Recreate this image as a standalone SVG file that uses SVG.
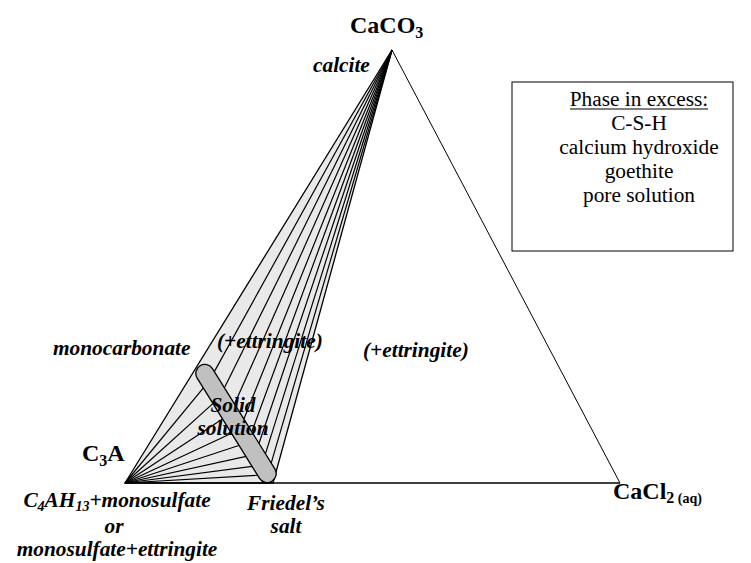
<svg xmlns="http://www.w3.org/2000/svg" width="751" height="563" viewBox="0 0 751 563">
<style>
.bi{font-family:"Liberation Serif","Times New Roman",serif;font-weight:bold;font-style:italic;font-size:21.33px;fill:#000}
.b{font-family:"Liberation Serif","Times New Roman",serif;font-weight:bold;font-size:24px;fill:#000}
.r{font-family:"Liberation Serif","Times New Roman",serif;font-size:21.33px;fill:#000}
.ln{stroke:#000;stroke-width:1.2;fill:none}
</style>
<rect width="751" height="563" fill="#fff"/>
<g id="phase-region">
<polygon points="392,50 125,483 273,483" fill="#e9e9e9" stroke="#000" stroke-width="1.3"/>
</g>
<g id="connectors" class="ln">
<line x1="392" y1="50" x2="620" y2="483" stroke-width="1"/>
<line x1="125" y1="483" x2="620" y2="483" stroke-width="1.5"/>
<line x1="392" y1="50" x2="209.36" y2="380.66"/>
<line x1="392" y1="50" x2="219.72" y2="397.32"/>
<line x1="392" y1="50" x2="230.08" y2="413.98"/>
<line x1="392" y1="50" x2="239.7" y2="429.45"/>
<line x1="392" y1="50" x2="247.84" y2="442.54"/>
<line x1="392" y1="50" x2="255.24" y2="454.44"/>
<line x1="392" y1="50" x2="261.9" y2="465.15"/>
<line x1="392" y1="50" x2="267.82" y2="474.67"/>
<line x1="125" y1="483" x2="209.36" y2="380.66"/>
<line x1="125" y1="483" x2="219.72" y2="397.32"/>
<line x1="125" y1="483" x2="230.08" y2="413.98"/>
<line x1="125" y1="483" x2="239.7" y2="429.45"/>
<line x1="125" y1="483" x2="247.84" y2="442.54"/>
<line x1="125" y1="483" x2="255.24" y2="454.44"/>
<line x1="125" y1="483" x2="261.9" y2="465.15"/>
<line x1="125" y1="483" x2="267.82" y2="474.67"/>
</g>
<g id="solid-solution">
<rect x="-68" y="-9" width="136" height="18" rx="9" ry="9" fill="#c0c0c0" stroke="#000" stroke-width="1.3" transform="translate(236,423.5) rotate(58.1)"/>
<text class="bi" x="233" y="412" text-anchor="middle">Solid</text>
<text class="bi" x="233" y="435" text-anchor="middle">solution</text>
</g>
<g id="node-caco3">
<text class="b" x="350" y="33">CaCO<tspan font-size="16" dy="5">3</tspan></text>
<text class="bi" x="313" y="72">calcite</text>
</g>
<g id="node-c3a">
<text class="b" x="82" y="461">C<tspan font-size="16" dy="5">3</tspan><tspan dy="-5">A</tspan></text>
<text class="bi" x="117" y="507" text-anchor="middle">C<tspan font-size="14" dy="4">4</tspan><tspan dy="-4">AH</tspan><tspan font-size="14" dy="4">13</tspan><tspan dy="-4">+monosulfate</tspan></text>
<text class="bi" x="114" y="533" text-anchor="middle">or</text>
<text class="bi" x="117" y="556" text-anchor="middle">monosulfate+ettringite</text>
</g>
<g id="node-cacl2">
<text class="b" x="613" y="499">CaCl<tspan font-size="16" dy="4">2</tspan><tspan font-size="14"> (aq)</tspan></text>
</g>
<g id="node-monocarbonate">
<text class="bi" x="53" y="355">monocarbonate</text>
</g>
<g id="node-friedel">
<text class="bi" x="286" y="510" text-anchor="middle">Friedel’s</text>
<text class="bi" x="286" y="533" text-anchor="middle">salt</text>
</g>
<g id="label-ettringite-1">
<text class="bi" x="217" y="348">(+ettringite)</text>
</g>
<g id="label-ettringite-2">
<text class="bi" x="363" y="357">(+ettringite)</text>
</g>
<g id="legend">
<rect x="512" y="82" width="221" height="169" fill="#fff" stroke="#000" stroke-width="1"/>
<text class="r" x="639" y="106" text-anchor="middle">Phase in excess:</text>
<line x1="570" y1="109" x2="708" y2="109" stroke="#000" stroke-width="1"/>
<text class="r" x="639" y="130" text-anchor="middle">C-S-H</text>
<text class="r" x="639" y="154" text-anchor="middle">calcium hydroxide</text>
<text class="r" x="639" y="178" text-anchor="middle">goethite</text>
<text class="r" x="639" y="202" text-anchor="middle">pore solution</text>
</g>
</svg>
